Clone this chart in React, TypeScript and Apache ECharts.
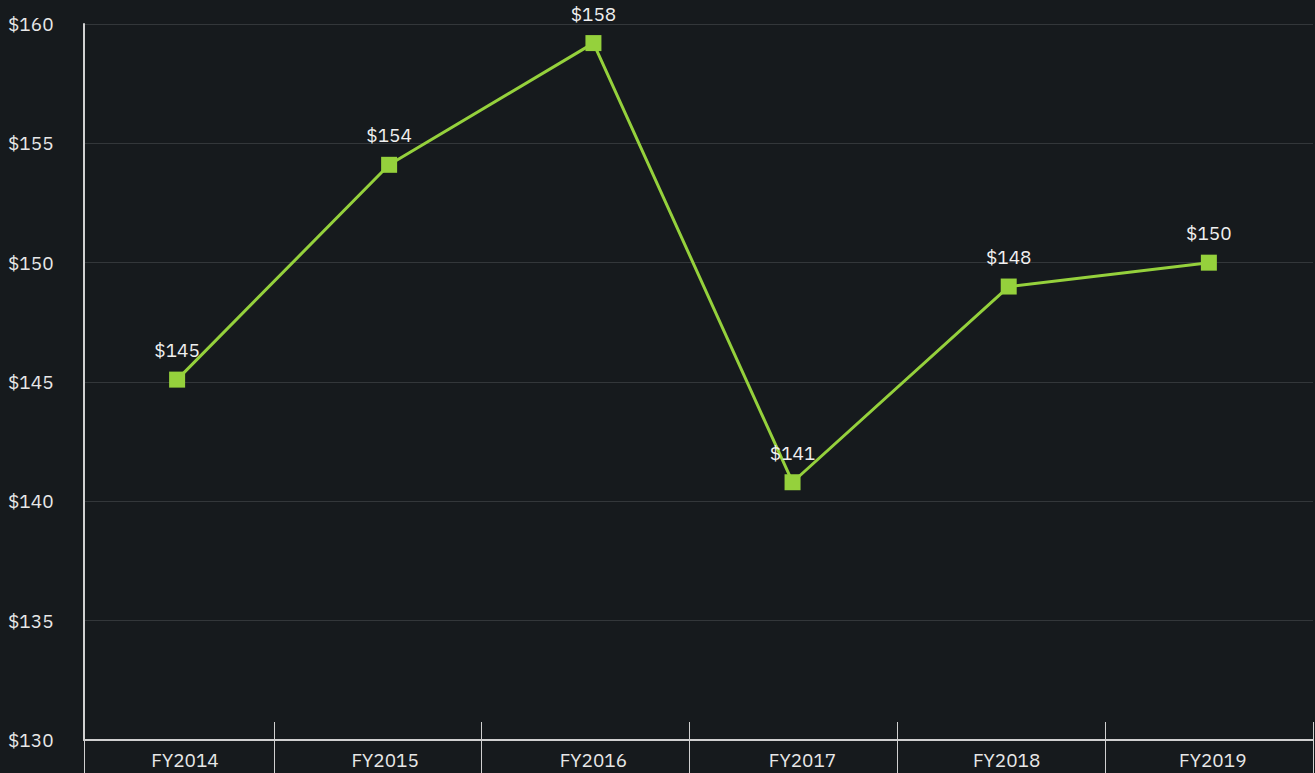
import React, { useEffect, useRef } from "react";
import * as echarts from "echarts";

const categories = ["FY2014", "FY2015", "FY2016", "FY2017", "FY2018", "FY2019"];
// fiscal-year axis, in year units (each fiscal year spans one unit)
const axisMin = 0.087;
const axisMax = 6;
const yearBoundaries = [0.087, 1, 2, 3, 4, 5, 6];
const labelPositions = [0.573, 1.536, 2.538, 3.544, 4.526, 5.518];
const pointPositions = [0.535, 1.555, 2.538, 3.496, 4.536, 5.499];
const values = [145.1, 154.1, 159.2, 140.8, 149.0, 150.0];
const valueLabels = ["$145", "$154", "$158", "$141", "$148", "$150"];
const yTicks = [130, 135, 140, 145, 150, 155, 160];

export default function App() {
  const ref = useRef<HTMLDivElement>(null);
  useEffect(() => {
    if (!ref.current) return;
    const chart = echarts.init(ref.current, null, { renderer: "svg" });
    const font = "'IBM Plex Sans', 'Noto Sans', sans-serif";
    const nearestCat = (v: number) => {
      let best = 0;
      for (let i = 1; i < labelPositions.length; i++) {
        if (Math.abs(labelPositions[i] - v) < Math.abs(labelPositions[best] - v)) best = i;
      }
      return categories[best];
    };
    chart.setOption({
      animation: false,
      backgroundColor: "#161a1d",
      grid: { left: 84, right: 2, top: 24, bottom: 33, containLabel: false },
      xAxis: [
        {
          type: "value",
          min: axisMin,
          max: axisMax,
          axisLine: { show: true, lineStyle: { color: "#d0d0d0", width: 2 } },
          axisTick: {
            show: true,
            inside: false,
            length: 33,
            customValues: yearBoundaries,
            lineStyle: { color: "#d0d0d0", width: 1 },
          },
          axisLabel: {
            show: true,
            customValues: labelPositions,
            color: "#e8e8e8",
            fontSize: 19,
            fontFamily: font,
            margin: 10,
            formatter: (v: number) => nearestCat(v),
          },
          splitLine: { show: false },
        },
        {
          type: "value",
          min: axisMin,
          max: axisMax,
          position: "bottom",
          axisLine: { show: false },
          axisTick: {
            show: true,
            inside: true,
            length: 18,
            customValues: yearBoundaries,
            lineStyle: { color: "#d0d0d0", width: 1 },
          },
          axisLabel: { show: false },
          splitLine: { show: false },
        },
      ],
      yAxis: {
        type: "value",
        min: yTicks[0],
        max: yTicks[yTicks.length - 1],
        interval: 5,
        axisLine: { show: true, lineStyle: { color: "#d0d0d0", width: 2 } },
        axisTick: { show: false },
        axisLabel: {
          color: "#e8e8e8",
          fontSize: 19,
          fontFamily: font,
          align: "left",
          margin: 76,
          formatter: (v: number) => "$" + v,
        },
        splitLine: { show: true, lineStyle: { color: "#33373a", width: 1 } },
      },
      series: [
        {
          type: "line",
          xAxisIndex: 0,
          data: values.map((v, i) => [pointPositions[i], v]),
          symbol: "rect",
          symbolSize: 16,
          itemStyle: { color: "#95d13c" },
          lineStyle: { color: "#95d13c", width: 3 },
          label: {
            show: true,
            position: "top",
            distance: 12,
            color: "#f0f0f0",
            fontSize: 19,
            fontFamily: font,
            formatter: (p: any) => valueLabels[p.dataIndex],
          },
          z: 5,
        },
      ],
    });
    return () => chart.dispose();
  }, []);
  return <div ref={ref} style={{ position: "fixed", left: 0, top: 0, width: 1315, height: 773 }} />;
}
